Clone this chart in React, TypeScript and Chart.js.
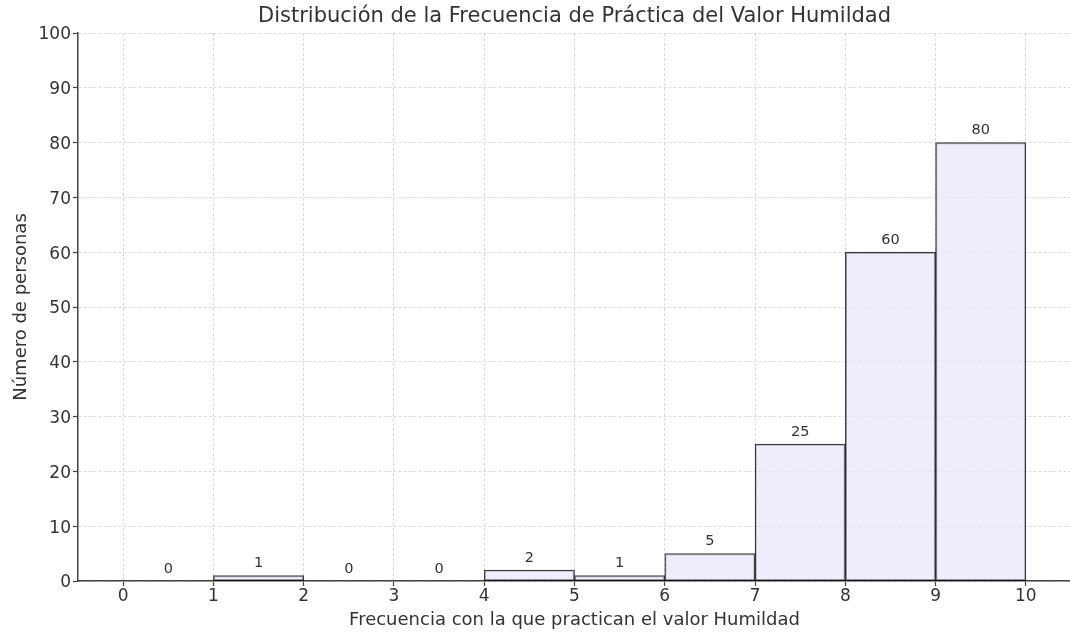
import React, { useEffect, useRef } from "react";
import { Chart, registerables } from "chart.js";

Chart.register(...registerables);

const chartTitle = "Distribución de la Frecuencia de Práctica del Valor Humildad";
const xAxisTitle = "Frecuencia con la que practican el valor Humildad";
const yAxisTitle = "Número de personas";
const binCenters = [0.5, 1.5, 2.5, 3.5, 4.5, 5.5, 6.5, 7.5, 8.5, 9.5];
const counts = [0, 1, 0, 0, 2, 1, 5, 25, 60, 80];
const xTicks = [0, 1, 2, 3, 4, 5, 6, 7, 8, 9, 10];

const FONT = "DejaVu Sans";
const TEXT = "#333333";

const valueLabels = {
  id: "valueLabels",
  afterDatasetsDraw(chart: any) {
    const ctx = chart.ctx;
    const meta = chart.getDatasetMeta(0);
    ctx.save();
    ctx.font = `14.5px "${FONT}"`;
    ctx.fillStyle = TEXT;
    ctx.textAlign = "center";
    ctx.textBaseline = "bottom";
    meta.data.forEach((bar: any, i: number) => {
      ctx.fillText(String(counts[i]), bar.x, bar.y - 5);
    });
    ctx.restore();
  },
};

export default function App() {
  const ref = useRef<HTMLCanvasElement>(null);
  useEffect(() => {
    if (!ref.current) return;
    const chart = new Chart(ref.current, {
      type: "bar",
      data: {
        datasets: [
          {
            data: binCenters.map((x, i) => ({ x, y: counts[i] })),
            backgroundColor: "rgba(230,230,250,0.7)",
            borderColor: "rgba(0,0,0,0.75)",
            borderWidth: 1.3,
            borderSkipped: false,
            barPercentage: 1,
            categoryPercentage: 1,
          },
        ],
      },
      options: {
        responsive: false,
        animation: false,
        devicePixelRatio: 1,
        layout: { padding: { left: 0, right: 29, top: 0, bottom: 0 } },
        plugins: {
          legend: { display: false },
          tooltip: { enabled: false },
          title: {
            display: true,
            text: chartTitle,
            fullSize: false,
            color: TEXT,
            font: { family: FONT, size: 21, weight: "normal" },
            padding: { top: 4.4, bottom: 3.4 },
          },
        },
        scales: {
          x: {
            type: "linear",
            min: -0.5,
            max: 10.5,
            offset: false,
            afterBuildTicks: (axis: any) => {
              axis.ticks = xTicks.map((v) => ({ value: v }));
            },
            afterFit: (scale: any) => {
              scale.height = 53;
            },
            ticks: {
              color: TEXT,
              font: { family: FONT, size: 17 },
              padding: 0,
              maxRotation: 0,
              autoSkip: false,
            },
            grid: {
              offset: false,
              color: "#d0d0d0",
              lineWidth: 0.8,
              tickColor: "#444",
              tickLength: 5,
              tickWidth: 1.2,
              tickBorderDash: [],
            },
            border: { display: true, color: "#444", width: 1.5, dash: [3, 2] },
            title: {
              display: true,
              text: xAxisTitle,
              color: TEXT,
              font: { family: FONT, size: 18 },
              padding: { top: 0, bottom: 3.2 },
            },
          },
          y: {
            type: "linear",
            min: 0,
            max: 100,
            afterFit: (scale: any) => {
              scale.width = 78;
            },
            ticks: {
              stepSize: 10,
              color: TEXT,
              font: { family: FONT, size: 17 },
              padding: 2,
              labelOffset: 2,
            },
            grid: {
              color: "#d0d0d0",
              lineWidth: 0.8,
              tickColor: "#444",
              tickLength: 5,
              tickWidth: 1.2,
              tickBorderDash: [],
            },
            border: { display: true, color: "#444", width: 1.5, dash: [3, 2] },
            title: {
              display: true,
              text: yAxisTitle,
              color: TEXT,
              font: { family: FONT, size: 18 },
              padding: { top: 10.2, bottom: 0 },
            },
          },
        },
      },
      plugins: [valueLabels],
    } as any);
    return () => chart.destroy();
  }, []);
  return (
    <div
      style={{
        position: "fixed",
        left: 0,
        top: 0,
        width: 1070,
        height: 634,
        overflow: "hidden",
        background: "#fff",
      }}
    >
      <canvas ref={ref} width={1100} height={634} style={{ display: "block" }} />
    </div>
  );
}
